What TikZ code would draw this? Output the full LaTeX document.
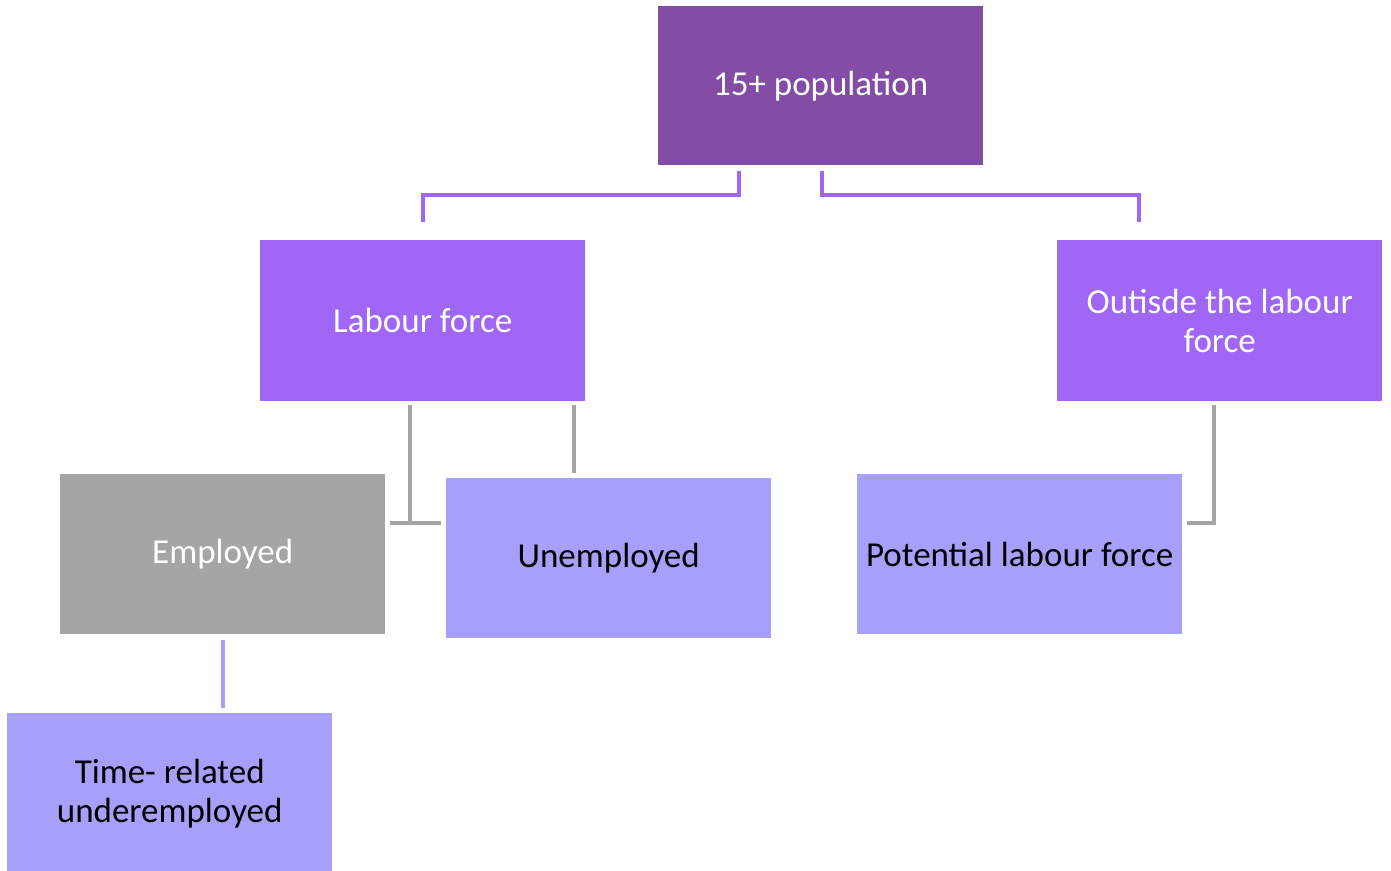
\documentclass[tikz,border=0pt]{standalone}
\usepackage{fontspec}
\setmainfont{Carlito}
\usetikzlibrary{calc}
\definecolor{topc}{RGB}{131,77,165}
\definecolor{midc}{RGB}{160,102,245}
\definecolor{lavc}{RGB}{166,160,250}
\definecolor{grayc}{RGB}{165,165,165}
\tikzset{
  box/.style={rectangle, anchor=north west, inner sep=0pt, minimum width=325pt, minimum height=160pt, align=center, font=\fontsize{35}{39}\selectfont},
  wtext/.style={text=white},
  btext/.style={text=black},
  pline/.style={draw=midc, line width=4pt},
  gline/.style={draw=grayc, line width=4pt},
  lline/.style={draw=lavc, line width=4pt}
}
\begin{document}
\begin{tikzpicture}[x=1pt,y=-1pt]
\useasboundingbox (0,0) rectangle (1391,870);
\node[box, wtext, fill=topc, minimum width=325pt, minimum height=159pt] (top) at (658,6) {15+ population};
\node[box, wtext, fill=midc, minimum height=161pt] (lab) at (260,240) {Labour force};
\node[box, wtext, fill=midc, minimum height=161pt] (out) at (1057,240) {Outisde the labour\\force};
\node[box, wtext, fill=grayc] (emp) at (60,474) {Employed};
\node[box, btext, fill=lavc] (une) at (446,478) {Unemployed};
\node[box, btext, fill=lavc] (pot) at (857,474) {Potential labour force};
\node[box, btext, fill=lavc, minimum height=160pt] (tim) at (7,713) {Time- related\\underemployed};
% connectors from top
\draw[pline] ($(top.south)+(-82,6)$) |- ($(lab.north)+(0,-45)$) -- ($(lab.north)+(0,-18)$);
\draw[pline] ($(top.south)+(1,6)$) |- ($(out.north)+(-81,-45)$) -- ($(out.north)+(-81,-18)$);
% gray connectors
\draw[gline] ($(lab.south)+(-13,4)$) -- ($(lab.south |- emp.east)+(-13,-31)$);
\draw[gline] ($(emp.east)+(5,-31)$) -- ($(une.west)+(-5,-35)$);
\draw[gline] ($(lab.south)+(151,4)$) -- ($(lab.south |- une.north)+(151,-5)$);
\draw[gline] ($(out.south)+(-6,4)$) |- ($(pot.east)+(5,-31)$);
% lavender connector
\draw[lline] ($(emp.south)+(0,6)$) -- ($(emp.south |- tim.north)+(0,-5)$);
\end{tikzpicture}
\end{document}
